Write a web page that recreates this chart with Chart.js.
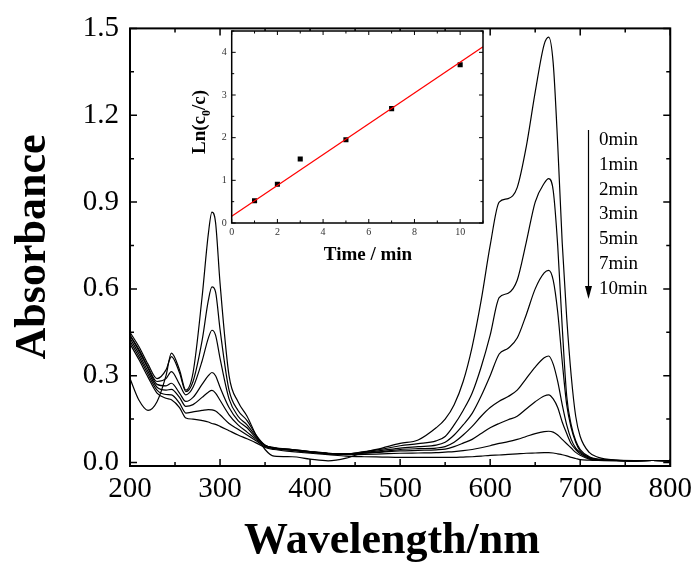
<!DOCTYPE html>
<html>
<head>
<meta charset="utf-8">
<script src="https://cdn.jsdelivr.net/npm/chart.js@4.4.0/dist/chart.umd.min.js"></script>
<style>
  body { margin: 0; background: #fff; }
  #wrap { position: relative; width: 698px; height: 566px; }
  #mainChart { position: absolute; left: 0; top: 0; }
  #insetChart { position: absolute; left: 170px; top: 20px; }
</style>
</head>
<body>
<div id="wrap">
  <canvas id="mainChart" width="698" height="566"></canvas>
  <canvas id="insetChart" width="320" height="250"></canvas>
</div>
<script>
// Wavelength grid (nm) shared by all spectra
const wavelengths = [200, 210, 220, 230, 240, 246, 255, 262, 270, 280,
  287, 291, 295, 300, 310, 320, 330, 340, 350, 360,
  380, 400, 420, 440, 460, 480, 500, 520, 540, 550,
  560, 570, 580, 590, 600, 610, 620, 630, 640, 650,
  660, 665, 670, 675, 680, 685, 690, 695, 700, 710,
  720, 740, 760, 780, 800];

// Absorbance, one array per irradiation time
const abs0min = [0.29, 0.215, 0.18, 0.21, 0.30, 0.378, 0.32, 0.25, 0.31, 0.57,
  0.79, 0.865, 0.83, 0.62, 0.30, 0.21, 0.16, 0.095, 0.045, 0.022,
  0.02, 0.012, 0.006, 0.015, 0.035, 0.05, 0.066, 0.078, 0.12, 0.15,
  0.2, 0.28, 0.4, 0.56, 0.75, 0.9, 0.912, 0.95, 1.09, 1.28,
  1.445, 1.47, 1.38, 1.1, 0.76, 0.5, 0.3, 0.16, 0.09, 0.035,
  0.018, 0.008, 0.006, 0.007, 0.006];
const abs1min = [0.45, 0.40, 0.34, 0.29, 0.32, 0.366, 0.31, 0.245, 0.28, 0.42,
  0.56, 0.607, 0.59, 0.46, 0.25, 0.18, 0.145, 0.095, 0.06, 0.05,
  0.045, 0.038, 0.032, 0.03, 0.038, 0.046, 0.058, 0.065, 0.075, 0.09,
  0.13, 0.18, 0.24, 0.33, 0.44, 0.57, 0.585, 0.63, 0.76, 0.9,
  0.965, 0.981, 0.94, 0.75, 0.47, 0.23, 0.13, 0.075, 0.045, 0.02,
  0.012, 0.008, 0.007, 0.007, 0.006];
const abs2min = [0.44, 0.39, 0.33, 0.28, 0.29, 0.314, 0.27, 0.234, 0.26, 0.35,
  0.43, 0.457, 0.44, 0.36, 0.22, 0.16, 0.13, 0.09, 0.06, 0.052,
  0.045, 0.038, 0.032, 0.03, 0.035, 0.042, 0.05, 0.055, 0.06, 0.07,
  0.095, 0.13, 0.17, 0.23, 0.3, 0.375, 0.395, 0.43, 0.51, 0.6,
  0.655, 0.664, 0.63, 0.52, 0.35, 0.2, 0.12, 0.07, 0.04, 0.018,
  0.01, 0.007, 0.006, 0.007, 0.006];
const abs3min = [0.44, 0.385, 0.325, 0.27, 0.265, 0.274, 0.24, 0.211, 0.225, 0.27,
  0.30, 0.311, 0.30, 0.26, 0.19, 0.145, 0.12, 0.085, 0.06, 0.05,
  0.044, 0.037, 0.031, 0.03, 0.033, 0.038, 0.045, 0.048, 0.05, 0.055,
  0.07, 0.095, 0.125, 0.16, 0.19, 0.212, 0.228, 0.25, 0.29, 0.33,
  0.362, 0.368, 0.34, 0.28, 0.2, 0.13, 0.08, 0.05, 0.035, 0.015,
  0.009, 0.007, 0.006, 0.007, 0.006];
const abs5min = [0.43, 0.375, 0.315, 0.26, 0.25, 0.253, 0.225, 0.194, 0.20, 0.225,
  0.243, 0.249, 0.24, 0.215, 0.165, 0.13, 0.105, 0.08, 0.058, 0.05,
  0.043, 0.036, 0.031, 0.03, 0.032, 0.036, 0.04, 0.042, 0.044, 0.046,
  0.055, 0.067, 0.08, 0.1, 0.12, 0.135, 0.148, 0.16, 0.185, 0.21,
  0.23, 0.234, 0.22, 0.19, 0.14, 0.1, 0.065, 0.045, 0.03, 0.015,
  0.009, 0.007, 0.006, 0.007, 0.006];
const abs7min = [0.42, 0.365, 0.305, 0.25, 0.235, 0.234, 0.205, 0.171, 0.175, 0.18,
  0.183, 0.182, 0.178, 0.165, 0.135, 0.115, 0.095, 0.075, 0.055, 0.048,
  0.042, 0.035, 0.03, 0.027, 0.028, 0.03, 0.032, 0.033, 0.034, 0.036,
  0.038, 0.041, 0.045, 0.051, 0.058, 0.066, 0.072, 0.08, 0.09, 0.1,
  0.107, 0.108, 0.105, 0.095, 0.08, 0.065, 0.05, 0.035, 0.025, 0.012,
  0.008, 0.007, 0.006, 0.007, 0.006];
const abs10min = [0.41, 0.355, 0.295, 0.24, 0.222, 0.217, 0.19, 0.154, 0.15, 0.145,
  0.14, 0.135, 0.132, 0.125, 0.11, 0.095, 0.082, 0.068, 0.052, 0.045,
  0.038, 0.032, 0.027, 0.022, 0.02, 0.019, 0.018, 0.018, 0.018, 0.018,
  0.018, 0.019, 0.02, 0.022, 0.025, 0.026, 0.028, 0.03, 0.032, 0.033,
  0.034, 0.034, 0.033, 0.03, 0.027, 0.023, 0.018, 0.014, 0.01, 0.008,
  0.007, 0.006, 0.006, 0.007, 0.006];

const seriesLabels = ['0min', '1min', '2min', '3min', '5min', '7min', '10min'];
const seriesValues = [abs0min, abs1min, abs2min, abs3min, abs5min, abs7min, abs10min];

const xTicks = [200, 300, 400, 500, 600, 700, 800];
const yTicks = [0.0, 0.3, 0.6, 0.9, 1.2, 1.5];
const xMinorStep = 50;
const yMinorStep = 0.15;

// Inset: first-order kinetics
const insetTime = [1, 2, 3, 5, 7, 10];
const insetLn = [0.52, 0.91, 1.50, 1.95, 2.68, 3.71];
const fitTime = [0, 11];
const fitLn = [0.16, 4.13];
const insetXTicks = [0, 2, 4, 6, 8, 10];
const insetYTicks = [0, 1, 2, 3, 4];

const SERIF = "'Liberation Serif', 'Times New Roman', serif";

function drawTicks(ctx, area, xs, ys, xVals, yVals, len, both) {
    ctx.beginPath();
    xVals.forEach(v => {
        const px = xs.getPixelForValue(v);
        ctx.moveTo(px, area.bottom); ctx.lineTo(px, area.bottom - len);
        if (both) { ctx.moveTo(px, area.top); ctx.lineTo(px, area.top + len); }
    });
    yVals.forEach(v => {
        const py = ys.getPixelForValue(v);
        ctx.moveTo(area.left, py); ctx.lineTo(area.left + len, py);
        if (both) { ctx.moveTo(area.right, py); ctx.lineTo(area.right - len, py); }
    });
    ctx.stroke();
}

function minorValues(min, max, step, majors) {
    const out = [];
    for (let v = min; v <= max + 1e-9; v += step) {
        if (!majors.some(m => Math.abs(m - v) < 1e-6)) out.push(v);
    }
    return out;
}

// Frame, inward ticks, legend and axis titles of the main chart
const mainDecor = {
    id: 'mainDecor',
    afterDatasetsDraw(chart) {
        const { ctx, chartArea: a, scales: { x, y } } = chart;
        ctx.save();
        ctx.strokeStyle = '#000';
        ctx.lineWidth = 1.5;
        drawTicks(ctx, a, x, y, xTicks, yTicks, 7, true);
        drawTicks(ctx, a, x, y, minorValues(200, 800, xMinorStep, xTicks),
            minorValues(0, 1.5, yMinorStep, yTicks), 4, true);
        ctx.lineWidth = 2;
        ctx.strokeRect(a.left, a.top, a.right - a.left, a.bottom - a.top);
        ctx.restore();
    },
    afterDraw(chart) {
        const ctx = chart.ctx;
        ctx.save();
        ctx.fillStyle = '#000';
        ctx.strokeStyle = '#000';

        // legend: arrow plus time labels
        ctx.lineWidth = 1.2;
        ctx.beginPath();
        ctx.moveTo(588.5, 130);
        ctx.lineTo(588.5, 290);
        ctx.stroke();
        ctx.beginPath();
        ctx.moveTo(585, 286);
        ctx.lineTo(592, 286);
        ctx.lineTo(588.5, 299);
        ctx.closePath();
        ctx.fill();
        ctx.font = '19px ' + SERIF;
        ctx.textAlign = 'left';
        ctx.textBaseline = 'middle';
        seriesLabels.forEach((t, i) => ctx.fillText(t, 599, 140 + i * 24.8));

        // axis titles
        ctx.font = 'bold 44px ' + SERIF;
        ctx.textAlign = 'center';
        ctx.textBaseline = 'alphabetic';
        ctx.fillText('Wavelength/nm', 392, 553);
        ctx.translate(45, 247);
        ctx.rotate(-Math.PI / 2);
        ctx.fillText('Absorbance', 0, 0);
        ctx.restore();
    }
};

new Chart(document.getElementById('mainChart'), {
    type: 'line',
    data: {
        datasets: seriesValues.map((vals, k) => ({
            label: seriesLabels[k],
            data: wavelengths.map((w, i) => ({ x: w, y: vals[i] })),
            borderColor: '#000',
            borderWidth: 1.2,
            pointRadius: 0,
            fill: false,
            cubicInterpolationMode: 'monotone'
        }))
    },
    options: {
        responsive: false,
        animation: false,
        devicePixelRatio: 1,
        layout: { padding: { top: 27, right: 26, left: 0, bottom: 0 } },
        plugins: { legend: { display: false }, tooltip: { enabled: false } },
        scales: {
            x: {
                type: 'linear', min: 200, max: 800,
                afterBuildTicks: s => { s.ticks = xTicks.map(v => ({ value: v })); },
                afterFit: s => { s.height = 100; },
                grid: { display: false, drawTicks: false },
                border: { display: false },
                ticks: { font: { family: SERIF, size: 29 }, color: '#000', padding: 6, maxRotation: 0, autoSkip: false }
            },
            y: {
                type: 'linear', min: -0.012, max: 1.5,
                afterBuildTicks: s => { s.ticks = yTicks.map(v => ({ value: v })); },
                afterFit: s => { s.width = 130; },
                grid: { display: false, drawTicks: false },
                border: { display: false },
                ticks: {
                    font: { family: SERIF, size: 29 }, color: '#000', padding: 11, autoSkip: false,
                    callback: v => v.toFixed(1)
                }
            }
        }
    },
    plugins: [mainDecor]
});

// Inset chart decorations
const insetDecor = {
    id: 'insetDecor',
    beforeDatasetsDraw(chart) {
        const { ctx, chartArea: a } = chart;
        ctx.save();
        ctx.fillStyle = '#fff';
        ctx.fillRect(a.left, a.top, a.right - a.left, a.bottom - a.top);
        ctx.restore();
    },
    afterDatasetsDraw(chart) {
        const { ctx, chartArea: a, scales: { x, y } } = chart;
        ctx.save();
        ctx.strokeStyle = '#000';
        ctx.lineWidth = 1;
        drawTicks(ctx, a, x, y, insetXTicks, insetYTicks, 4, true);
        drawTicks(ctx, a, x, y, minorValues(0, 11, 1, insetXTicks),
            minorValues(0, 4.5, 0.5, insetYTicks), 2.5, true);
        ctx.lineWidth = 1.5;
        ctx.strokeRect(a.left, a.top, a.right - a.left, a.bottom - a.top);

        ctx.fillStyle = '#000';
        ctx.font = 'bold 19px ' + SERIF;
        ctx.textAlign = 'center';
        ctx.textBaseline = 'alphabetic';
        ctx.fillText('Time / min', 198, 240);

        // rotated y title with subscript 0
        ctx.translate(35, 102);
        ctx.rotate(-Math.PI / 2);
        const big = 'bold 19px ' + SERIF, small = 'bold 12px ' + SERIF;
        const parts = [['Ln(c', big, 0], ['0', small, 5], ['/c)', big, 0]];
        let total = 0;
        parts.forEach(p => { ctx.font = p[1]; total += ctx.measureText(p[0]).width; });
        let cx = -total / 2;
        ctx.textAlign = 'left';
        parts.forEach(p => {
            ctx.font = p[1];
            ctx.fillText(p[0], cx, p[2]);
            cx += ctx.measureText(p[0]).width;
        });
        ctx.restore();
    }
};

new Chart(document.getElementById('insetChart'), {
    type: 'scatter',
    data: {
        datasets: [
            {
                type: 'line',
                data: fitTime.map((t, i) => ({ x: t, y: fitLn[i] })),
                borderColor: '#ff0000',
                borderWidth: 1.2,
                pointRadius: 0,
                fill: false
            },
            {
                data: insetTime.map((t, i) => ({ x: t, y: insetLn[i] })),
                pointStyle: 'rect',
                pointRadius: 3.6,
                backgroundColor: '#000',
                borderColor: '#000',
                borderWidth: 0
            }
        ]
    },
    options: {
        responsive: false,
        animation: false,
        devicePixelRatio: 1,
        layout: { padding: { top: 7, right: 7, left: 0, bottom: 0 } },
        plugins: { legend: { display: false }, tooltip: { enabled: false } },
        scales: {
            x: {
                type: 'linear', min: 0, max: 11,
                afterBuildTicks: s => { s.ticks = insetXTicks.map(v => ({ value: v })); },
                afterFit: s => { s.height = 47; },
                grid: { display: false, drawTicks: false },
                border: { display: false },
                ticks: { font: { family: SERIF, size: 10 }, color: '#333', padding: 3, maxRotation: 0, autoSkip: false }
            },
            y: {
                type: 'linear', min: 0, max: 4.5,
                afterBuildTicks: s => { s.ticks = insetYTicks.map(v => ({ value: v })); },
                afterFit: s => { s.width = 61.7; },
                grid: { display: false, drawTicks: false },
                border: { display: false },
                ticks: { font: { family: SERIF, size: 10 }, color: '#333', padding: 5, autoSkip: false }
            }
        }
    },
    plugins: [insetDecor]
});
</script>
</body>
</html>
